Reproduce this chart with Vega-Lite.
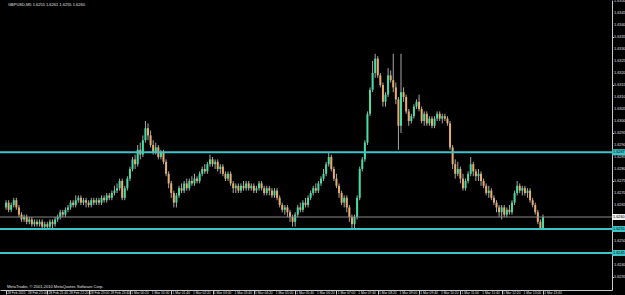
{
"$schema": "https://vega.github.io/schema/vega-lite/v6.json",
"width": 612, "height": 290,
"autosize": {"type": "none"},
"padding": {"left": 0, "top": 0, "right": 13, "bottom": 5},
"background": "#000000",
"config": {"view": {"stroke": null}, "font": "Liberation Sans"},
"datasets": {
"bars": [
{"t":"2011-02-28T20:20","o":1.6264,"h":1.6267,"l":1.6263,"c":1.6266},
{"t":"2011-02-28T20:25","o":1.6266,"h":1.6267,"l":1.6262,"c":1.6263},
{"t":"2011-02-28T20:30","o":1.6263,"h":1.6266,"l":1.6262,"c":1.6265},
{"t":"2011-02-28T20:35","o":1.6265,"h":1.6268,"l":1.6264,"c":1.6267},
{"t":"2011-02-28T20:40","o":1.6267,"h":1.6268,"l":1.6263,"c":1.6264},
{"t":"2011-02-28T20:45","o":1.6264,"h":1.6265,"l":1.6260,"c":1.6261},
{"t":"2011-02-28T20:50","o":1.6261,"h":1.6262,"l":1.6258,"c":1.6259},
{"t":"2011-02-28T20:55","o":1.6259,"h":1.6261,"l":1.6258,"c":1.6260},
{"t":"2011-02-28T21:00","o":1.6260,"h":1.6261,"l":1.6257,"c":1.6258},
{"t":"2011-02-28T21:05","o":1.6258,"h":1.6260,"l":1.6257,"c":1.6259},
{"t":"2011-02-28T21:10","o":1.6259,"h":1.6260,"l":1.6256,"c":1.6257},
{"t":"2011-02-28T21:15","o":1.6257,"h":1.6259,"l":1.6256,"c":1.6258},
{"t":"2011-02-28T21:20","o":1.6258,"h":1.6259,"l":1.6256,"c":1.6257},
{"t":"2011-02-28T21:25","o":1.6257,"h":1.6259,"l":1.6256,"c":1.6258},
{"t":"2011-02-28T21:30","o":1.6258,"h":1.6259,"l":1.6255,"c":1.6256},
{"t":"2011-02-28T21:35","o":1.6256,"h":1.6258,"l":1.6255,"c":1.6257},
{"t":"2011-02-28T21:40","o":1.6257,"h":1.6258,"l":1.6255,"c":1.6256},
{"t":"2011-02-28T21:45","o":1.6256,"h":1.6259,"l":1.6255,"c":1.6258},
{"t":"2011-02-28T21:50","o":1.6258,"h":1.6259,"l":1.6255,"c":1.6257},
{"t":"2011-02-28T21:55","o":1.6257,"h":1.6260,"l":1.6256,"c":1.6259},
{"t":"2011-02-28T22:00","o":1.6259,"h":1.6261,"l":1.6258,"c":1.6260},
{"t":"2011-02-28T22:05","o":1.6260,"h":1.6263,"l":1.6259,"c":1.6262},
{"t":"2011-02-28T22:10","o":1.6262,"h":1.6263,"l":1.6260,"c":1.6261},
{"t":"2011-02-28T22:15","o":1.6261,"h":1.6264,"l":1.6260,"c":1.6263},
{"t":"2011-02-28T22:20","o":1.6263,"h":1.6265,"l":1.6262,"c":1.6264},
{"t":"2011-02-28T22:25","o":1.6264,"h":1.6267,"l":1.6263,"c":1.6266},
{"t":"2011-02-28T22:30","o":1.6266,"h":1.6267,"l":1.6264,"c":1.6265},
{"t":"2011-02-28T22:35","o":1.6265,"h":1.6269,"l":1.6264,"c":1.6267},
{"t":"2011-02-28T22:40","o":1.6267,"h":1.6269,"l":1.6266,"c":1.6268},
{"t":"2011-02-28T22:45","o":1.6268,"h":1.6269,"l":1.6265,"c":1.6266},
{"t":"2011-02-28T22:50","o":1.6266,"h":1.6268,"l":1.6265,"c":1.6267},
{"t":"2011-02-28T22:55","o":1.6267,"h":1.6268,"l":1.6264,"c":1.6266},
{"t":"2011-02-28T23:00","o":1.6266,"h":1.6267,"l":1.6264,"c":1.6265},
{"t":"2011-02-28T23:05","o":1.6265,"h":1.6268,"l":1.6264,"c":1.6267},
{"t":"2011-02-28T23:10","o":1.6267,"h":1.6268,"l":1.6265,"c":1.6266},
{"t":"2011-02-28T23:15","o":1.6266,"h":1.6268,"l":1.6265,"c":1.6267},
{"t":"2011-02-28T23:20","o":1.6267,"h":1.6268,"l":1.6265,"c":1.6266},
{"t":"2011-02-28T23:25","o":1.6266,"h":1.6269,"l":1.6265,"c":1.6268},
{"t":"2011-02-28T23:30","o":1.6268,"h":1.6269,"l":1.6266,"c":1.6267},
{"t":"2011-02-28T23:35","o":1.6267,"h":1.6270,"l":1.6266,"c":1.6269},
{"t":"2011-02-28T23:40","o":1.6269,"h":1.6270,"l":1.6267,"c":1.6268},
{"t":"2011-02-28T23:45","o":1.6268,"h":1.6271,"l":1.6267,"c":1.6270},
{"t":"2011-02-28T23:50","o":1.6270,"h":1.6273,"l":1.6269,"c":1.6271},
{"t":"2011-02-28T23:55","o":1.6271,"h":1.6274,"l":1.6270,"c":1.6272},
{"t":"2011-03-01T00:00","o":1.6272,"h":1.6276,"l":1.6271,"c":1.6275},
{"t":"2011-03-01T00:05","o":1.6275,"h":1.6276,"l":1.6267,"c":1.6268},
{"t":"2011-03-01T00:10","o":1.6268,"h":1.6273,"l":1.6267,"c":1.6272},
{"t":"2011-03-01T00:15","o":1.6272,"h":1.6277,"l":1.6271,"c":1.6276},
{"t":"2011-03-01T00:20","o":1.6276,"h":1.6281,"l":1.6275,"c":1.6280},
{"t":"2011-03-01T00:25","o":1.6280,"h":1.6285,"l":1.6279,"c":1.6284},
{"t":"2011-03-01T00:30","o":1.6284,"h":1.6286,"l":1.6280,"c":1.6282},
{"t":"2011-03-01T00:35","o":1.6282,"h":1.6290,"l":1.6281,"c":1.6288},
{"t":"2011-03-01T00:40","o":1.6288,"h":1.6291,"l":1.6284,"c":1.6286},
{"t":"2011-03-01T00:45","o":1.6286,"h":1.6294,"l":1.6285,"c":1.6292},
{"t":"2011-03-01T00:50","o":1.6292,"h":1.6300,"l":1.6291,"c":1.6297},
{"t":"2011-03-01T00:55","o":1.6297,"h":1.6299,"l":1.6292,"c":1.6294},
{"t":"2011-03-01T01:00","o":1.6294,"h":1.6296,"l":1.6289,"c":1.6290},
{"t":"2011-03-01T01:05","o":1.6290,"h":1.6292,"l":1.6286,"c":1.6287},
{"t":"2011-03-01T01:10","o":1.6287,"h":1.6291,"l":1.6286,"c":1.6289},
{"t":"2011-03-01T01:15","o":1.6289,"h":1.6290,"l":1.6284,"c":1.6285},
{"t":"2011-03-01T01:20","o":1.6285,"h":1.6288,"l":1.6284,"c":1.6287},
{"t":"2011-03-01T01:25","o":1.6287,"h":1.6288,"l":1.6282,"c":1.6283},
{"t":"2011-03-01T01:30","o":1.6283,"h":1.6284,"l":1.6277,"c":1.6278},
{"t":"2011-03-01T01:35","o":1.6278,"h":1.6279,"l":1.6272,"c":1.6274},
{"t":"2011-03-01T01:40","o":1.6274,"h":1.6275,"l":1.6268,"c":1.6270},
{"t":"2011-03-01T01:45","o":1.6270,"h":1.6271,"l":1.6264,"c":1.6266},
{"t":"2011-03-01T01:50","o":1.6266,"h":1.6270,"l":1.6264,"c":1.6269},
{"t":"2011-03-01T01:55","o":1.6269,"h":1.6273,"l":1.6268,"c":1.6272},
{"t":"2011-03-01T02:00","o":1.6272,"h":1.6274,"l":1.6270,"c":1.6271},
{"t":"2011-03-01T02:05","o":1.6271,"h":1.6275,"l":1.6270,"c":1.6274},
{"t":"2011-03-01T02:10","o":1.6274,"h":1.6276,"l":1.6271,"c":1.6272},
{"t":"2011-03-01T02:15","o":1.6272,"h":1.6276,"l":1.6271,"c":1.6275},
{"t":"2011-03-01T02:20","o":1.6275,"h":1.6277,"l":1.6273,"c":1.6274},
{"t":"2011-03-01T02:25","o":1.6274,"h":1.6278,"l":1.6273,"c":1.6276},
{"t":"2011-03-01T02:30","o":1.6276,"h":1.6277,"l":1.6274,"c":1.6275},
{"t":"2011-03-01T02:35","o":1.6275,"h":1.6279,"l":1.6274,"c":1.6278},
{"t":"2011-03-01T02:40","o":1.6278,"h":1.6281,"l":1.6277,"c":1.6280},
{"t":"2011-03-01T02:45","o":1.6280,"h":1.6282,"l":1.6278,"c":1.6279},
{"t":"2011-03-01T02:50","o":1.6279,"h":1.6283,"l":1.6278,"c":1.6282},
{"t":"2011-03-01T02:55","o":1.6282,"h":1.6286,"l":1.6281,"c":1.6284},
{"t":"2011-03-01T03:00","o":1.6284,"h":1.6285,"l":1.6281,"c":1.6282},
{"t":"2011-03-01T03:05","o":1.6282,"h":1.6284,"l":1.6280,"c":1.6283},
{"t":"2011-03-01T03:10","o":1.6283,"h":1.6284,"l":1.6279,"c":1.6280},
{"t":"2011-03-01T03:15","o":1.6280,"h":1.6282,"l":1.6278,"c":1.6281},
{"t":"2011-03-01T03:20","o":1.6281,"h":1.6282,"l":1.6277,"c":1.6278},
{"t":"2011-03-01T03:25","o":1.6278,"h":1.6279,"l":1.6275,"c":1.6276},
{"t":"2011-03-01T03:30","o":1.6276,"h":1.6279,"l":1.6275,"c":1.6278},
{"t":"2011-03-01T03:35","o":1.6278,"h":1.6279,"l":1.6273,"c":1.6274},
{"t":"2011-03-01T03:40","o":1.6274,"h":1.6275,"l":1.6270,"c":1.6272},
{"t":"2011-03-01T03:45","o":1.6272,"h":1.6274,"l":1.6270,"c":1.6273},
{"t":"2011-03-01T03:50","o":1.6273,"h":1.6274,"l":1.6270,"c":1.6271},
{"t":"2011-03-01T03:55","o":1.6271,"h":1.6274,"l":1.6270,"c":1.6273},
{"t":"2011-03-01T04:00","o":1.6273,"h":1.6275,"l":1.6271,"c":1.6272},
{"t":"2011-03-01T04:05","o":1.6272,"h":1.6275,"l":1.6271,"c":1.6274},
{"t":"2011-03-01T04:10","o":1.6274,"h":1.6275,"l":1.6271,"c":1.6272},
{"t":"2011-03-01T04:15","o":1.6272,"h":1.6274,"l":1.6271,"c":1.6273},
{"t":"2011-03-01T04:20","o":1.6273,"h":1.6274,"l":1.6270,"c":1.6271},
{"t":"2011-03-01T04:25","o":1.6271,"h":1.6273,"l":1.6270,"c":1.6272},
{"t":"2011-03-01T04:30","o":1.6272,"h":1.6275,"l":1.6271,"c":1.6274},
{"t":"2011-03-01T04:35","o":1.6274,"h":1.6275,"l":1.6271,"c":1.6272},
{"t":"2011-03-01T04:40","o":1.6272,"h":1.6273,"l":1.6269,"c":1.6270},
{"t":"2011-03-01T04:45","o":1.6270,"h":1.6273,"l":1.6269,"c":1.6272},
{"t":"2011-03-01T04:50","o":1.6272,"h":1.6273,"l":1.6269,"c":1.6271},
{"t":"2011-03-01T04:55","o":1.6271,"h":1.6272,"l":1.6268,"c":1.6269},
{"t":"2011-03-01T05:00","o":1.6269,"h":1.6272,"l":1.6268,"c":1.6271},
{"t":"2011-03-01T05:05","o":1.6271,"h":1.6272,"l":1.6267,"c":1.6268},
{"t":"2011-03-01T05:10","o":1.6268,"h":1.6269,"l":1.6264,"c":1.6265},
{"t":"2011-03-01T05:15","o":1.6265,"h":1.6266,"l":1.6262,"c":1.6263},
{"t":"2011-03-01T05:20","o":1.6263,"h":1.6265,"l":1.6261,"c":1.6264},
{"t":"2011-03-01T05:25","o":1.6264,"h":1.6265,"l":1.6260,"c":1.6262},
{"t":"2011-03-01T05:30","o":1.6262,"h":1.6263,"l":1.6258,"c":1.6260},
{"t":"2011-03-01T05:35","o":1.6260,"h":1.6261,"l":1.6256,"c":1.6258},
{"t":"2011-03-01T05:40","o":1.6258,"h":1.6262,"l":1.6256,"c":1.6261},
{"t":"2011-03-01T05:45","o":1.6261,"h":1.6265,"l":1.6260,"c":1.6264},
{"t":"2011-03-01T05:50","o":1.6264,"h":1.6266,"l":1.6262,"c":1.6263},
{"t":"2011-03-01T05:55","o":1.6263,"h":1.6267,"l":1.6262,"c":1.6266},
{"t":"2011-03-01T06:00","o":1.6266,"h":1.6268,"l":1.6264,"c":1.6265},
{"t":"2011-03-01T06:05","o":1.6265,"h":1.6269,"l":1.6264,"c":1.6268},
{"t":"2011-03-01T06:10","o":1.6268,"h":1.6271,"l":1.6267,"c":1.6270},
{"t":"2011-03-01T06:15","o":1.6270,"h":1.6273,"l":1.6269,"c":1.6272},
{"t":"2011-03-01T06:20","o":1.6272,"h":1.6274,"l":1.6270,"c":1.6271},
{"t":"2011-03-01T06:25","o":1.6271,"h":1.6275,"l":1.6270,"c":1.6274},
{"t":"2011-03-01T06:30","o":1.6274,"h":1.6277,"l":1.6273,"c":1.6276},
{"t":"2011-03-01T06:35","o":1.6276,"h":1.6280,"l":1.6275,"c":1.6278},
{"t":"2011-03-01T06:40","o":1.6278,"h":1.6283,"l":1.6277,"c":1.6282},
{"t":"2011-03-01T06:45","o":1.6282,"h":1.6287,"l":1.6281,"c":1.6285},
{"t":"2011-03-01T06:50","o":1.6285,"h":1.6286,"l":1.6279,"c":1.6280},
{"t":"2011-03-01T06:55","o":1.6280,"h":1.6281,"l":1.6275,"c":1.6276},
{"t":"2011-03-01T07:00","o":1.6276,"h":1.6278,"l":1.6272,"c":1.6273},
{"t":"2011-03-01T07:05","o":1.6273,"h":1.6274,"l":1.6268,"c":1.6270},
{"t":"2011-03-01T07:10","o":1.6270,"h":1.6271,"l":1.6265,"c":1.6266},
{"t":"2011-03-01T07:15","o":1.6266,"h":1.6269,"l":1.6264,"c":1.6268},
{"t":"2011-03-01T07:20","o":1.6268,"h":1.6269,"l":1.6262,"c":1.6264},
{"t":"2011-03-01T07:25","o":1.6264,"h":1.6265,"l":1.6258,"c":1.6260},
{"t":"2011-03-01T07:30","o":1.6260,"h":1.6261,"l":1.6255,"c":1.6257},
{"t":"2011-03-01T07:35","o":1.6257,"h":1.6261,"l":1.6255,"c":1.6260},
{"t":"2011-03-01T07:40","o":1.6260,"h":1.6269,"l":1.6259,"c":1.6268},
{"t":"2011-03-01T07:45","o":1.6268,"h":1.6281,"l":1.6267,"c":1.6280},
{"t":"2011-03-01T07:50","o":1.6280,"h":1.6285,"l":1.6279,"c":1.6284},
{"t":"2011-03-01T07:55","o":1.6284,"h":1.6292,"l":1.6283,"c":1.6291},
{"t":"2011-03-01T08:00","o":1.6291,"h":1.6304,"l":1.6290,"c":1.6303},
{"t":"2011-03-01T08:05","o":1.6303,"h":1.6314,"l":1.6302,"c":1.6313},
{"t":"2011-03-01T08:10","o":1.6313,"h":1.6325,"l":1.6312,"c":1.6320},
{"t":"2011-03-01T08:15","o":1.6320,"h":1.6328,"l":1.6318,"c":1.6326},
{"t":"2011-03-01T08:20","o":1.6326,"h":1.6327,"l":1.6318,"c":1.6319},
{"t":"2011-03-01T08:25","o":1.6319,"h":1.6320,"l":1.6314,"c":1.6315},
{"t":"2011-03-01T08:30","o":1.6315,"h":1.6316,"l":1.6306,"c":1.6308},
{"t":"2011-03-01T08:35","o":1.6308,"h":1.6312,"l":1.6306,"c":1.6311},
{"t":"2011-03-01T08:40","o":1.6311,"h":1.6322,"l":1.6310,"c":1.6319},
{"t":"2011-03-01T08:45","o":1.6319,"h":1.6321,"l":1.6316,"c":1.6317},
{"t":"2011-03-01T08:50","o":1.6317,"h":1.6328,"l":1.6312,"c":1.6314},
{"t":"2011-03-01T08:55","o":1.6314,"h":1.6316,"l":1.6307,"c":1.6309},
{"t":"2011-03-01T09:00","o":1.6309,"h":1.6310,"l":1.6288,"c":1.6298},
{"t":"2011-03-01T09:05","o":1.6298,"h":1.6328,"l":1.6295,"c":1.6312},
{"t":"2011-03-01T09:10","o":1.6312,"h":1.6314,"l":1.6308,"c":1.6310},
{"t":"2011-03-01T09:15","o":1.6310,"h":1.6311,"l":1.6303,"c":1.6304},
{"t":"2011-03-01T09:20","o":1.6304,"h":1.6305,"l":1.6298,"c":1.6300},
{"t":"2011-03-01T09:25","o":1.6300,"h":1.6303,"l":1.6299,"c":1.6302},
{"t":"2011-03-01T09:30","o":1.6302,"h":1.6307,"l":1.6301,"c":1.6306},
{"t":"2011-03-01T09:35","o":1.6306,"h":1.6309,"l":1.6305,"c":1.6308},
{"t":"2011-03-01T09:40","o":1.6308,"h":1.6311,"l":1.6304,"c":1.6305},
{"t":"2011-03-01T09:45","o":1.6305,"h":1.6306,"l":1.6299,"c":1.6300},
{"t":"2011-03-01T09:50","o":1.6300,"h":1.6304,"l":1.6298,"c":1.6303},
{"t":"2011-03-01T09:55","o":1.6303,"h":1.6304,"l":1.6298,"c":1.6299},
{"t":"2011-03-01T10:00","o":1.6299,"h":1.6302,"l":1.6298,"c":1.6301},
{"t":"2011-03-01T10:05","o":1.6301,"h":1.6302,"l":1.6297,"c":1.6298},
{"t":"2011-03-01T10:10","o":1.6298,"h":1.6302,"l":1.6297,"c":1.6301},
{"t":"2011-03-01T10:15","o":1.6301,"h":1.6304,"l":1.6300,"c":1.6303},
{"t":"2011-03-01T10:20","o":1.6303,"h":1.6304,"l":1.6300,"c":1.6301},
{"t":"2011-03-01T10:25","o":1.6301,"h":1.6303,"l":1.6299,"c":1.6302},
{"t":"2011-03-01T10:30","o":1.6302,"h":1.6303,"l":1.6300,"c":1.6301},
{"t":"2011-03-01T10:35","o":1.6301,"h":1.6302,"l":1.6298,"c":1.6299},
{"t":"2011-03-01T10:40","o":1.6299,"h":1.6300,"l":1.6288,"c":1.6289},
{"t":"2011-03-01T10:45","o":1.6289,"h":1.6290,"l":1.6280,"c":1.6282},
{"t":"2011-03-01T10:50","o":1.6282,"h":1.6284,"l":1.6276,"c":1.6278},
{"t":"2011-03-01T10:55","o":1.6278,"h":1.6283,"l":1.6277,"c":1.6280},
{"t":"2011-03-01T11:00","o":1.6280,"h":1.6281,"l":1.6274,"c":1.6276},
{"t":"2011-03-01T11:05","o":1.6276,"h":1.6278,"l":1.6271,"c":1.6272},
{"t":"2011-03-01T11:10","o":1.6272,"h":1.6276,"l":1.6271,"c":1.6275},
{"t":"2011-03-01T11:15","o":1.6275,"h":1.6279,"l":1.6274,"c":1.6278},
{"t":"2011-03-01T11:20","o":1.6278,"h":1.6285,"l":1.6277,"c":1.6282},
{"t":"2011-03-01T11:25","o":1.6282,"h":1.6283,"l":1.6277,"c":1.6279},
{"t":"2011-03-01T11:30","o":1.6279,"h":1.6280,"l":1.6275,"c":1.6277},
{"t":"2011-03-01T11:35","o":1.6277,"h":1.6280,"l":1.6275,"c":1.6278},
{"t":"2011-03-01T11:40","o":1.6278,"h":1.6279,"l":1.6273,"c":1.6275},
{"t":"2011-03-01T11:45","o":1.6275,"h":1.6276,"l":1.6272,"c":1.6273},
{"t":"2011-03-01T11:50","o":1.6273,"h":1.6274,"l":1.6269,"c":1.6270},
{"t":"2011-03-01T11:55","o":1.6270,"h":1.6273,"l":1.6268,"c":1.6271},
{"t":"2011-03-01T12:00","o":1.6271,"h":1.6272,"l":1.6267,"c":1.6268},
{"t":"2011-03-01T12:05","o":1.6268,"h":1.6269,"l":1.6265,"c":1.6266},
{"t":"2011-03-01T12:10","o":1.6266,"h":1.6267,"l":1.6262,"c":1.6264},
{"t":"2011-03-01T12:15","o":1.6264,"h":1.6265,"l":1.6260,"c":1.6262},
{"t":"2011-03-01T12:20","o":1.6262,"h":1.6265,"l":1.6259,"c":1.6264},
{"t":"2011-03-01T12:25","o":1.6264,"h":1.6265,"l":1.6260,"c":1.6261},
{"t":"2011-03-01T12:30","o":1.6261,"h":1.6264,"l":1.6260,"c":1.6263},
{"t":"2011-03-01T12:35","o":1.6263,"h":1.6265,"l":1.6261,"c":1.6262},
{"t":"2011-03-01T12:40","o":1.6262,"h":1.6267,"l":1.6261,"c":1.6266},
{"t":"2011-03-01T12:45","o":1.6266,"h":1.6271,"l":1.6265,"c":1.6270},
{"t":"2011-03-01T12:50","o":1.6270,"h":1.6275,"l":1.6269,"c":1.6273},
{"t":"2011-03-01T12:55","o":1.6273,"h":1.6274,"l":1.6270,"c":1.6271},
{"t":"2011-03-01T13:00","o":1.6271,"h":1.6273,"l":1.6269,"c":1.6272},
{"t":"2011-03-01T13:05","o":1.6272,"h":1.6273,"l":1.6269,"c":1.6270},
{"t":"2011-03-01T13:10","o":1.6270,"h":1.6272,"l":1.6268,"c":1.6271},
{"t":"2011-03-01T13:15","o":1.6271,"h":1.6272,"l":1.6266,"c":1.6267},
{"t":"2011-03-01T13:20","o":1.6267,"h":1.6268,"l":1.6264,"c":1.6265},
{"t":"2011-03-01T13:25","o":1.6265,"h":1.6266,"l":1.6261,"c":1.6262},
{"t":"2011-03-01T13:30","o":1.6262,"h":1.6263,"l":1.6257,"c":1.6258},
{"t":"2011-03-01T13:35","o":1.6258,"h":1.6259,"l":1.6255,"c":1.6255},
{"t":"2011-03-01T13:40","o":1.6255,"h":1.6261,"l":1.6255,"c":1.6260}
],
"lines": [{"p":1.6287},{"p":1.6255},{"p":1.6245}],
"bid": [{"p":1.6260}],
"yticks": [{"p":1.6235},{"p":1.6240},{"p":1.6245},{"p":1.6250},{"p":1.6255},{"p":1.6260},{"p":1.6265},{"p":1.6270},{"p":1.6275},{"p":1.6280},{"p":1.6285},{"p":1.6290},{"p":1.6295},{"p":1.6300},{"p":1.6305},{"p":1.6310},{"p":1.6315},{"p":1.6320},{"p":1.6325},{"p":1.6330},{"p":1.6335},{"p":1.6340},{"p":1.6345},{"p":1.6350}],
"xticks": [
{"t":"2011-02-28T20:20","lab":"28 Feb 2011"},
{"t":"2011-02-28T21:00","lab":"28 Feb 21:00"},
{"t":"2011-02-28T21:40","lab":"28 Feb 21:40"},
{"t":"2011-02-28T22:20","lab":"28 Feb 22:20"},
{"t":"2011-02-28T23:00","lab":"28 Feb 23:00"},
{"t":"2011-02-28T23:40","lab":"28 Feb 23:40"},
{"t":"2011-03-01T00:20","lab":"1 Mar 00:20"},
{"t":"2011-03-01T01:00","lab":"1 Mar 01:00"},
{"t":"2011-03-01T01:40","lab":"1 Mar 01:40"},
{"t":"2011-03-01T02:20","lab":"1 Mar 02:20"},
{"t":"2011-03-01T03:00","lab":"1 Mar 03:00"},
{"t":"2011-03-01T03:40","lab":"1 Mar 03:40"},
{"t":"2011-03-01T04:20","lab":"1 Mar 04:20"},
{"t":"2011-03-01T05:00","lab":"1 Mar 05:00"},
{"t":"2011-03-01T05:40","lab":"1 Mar 05:40"},
{"t":"2011-03-01T06:20","lab":"1 Mar 06:20"},
{"t":"2011-03-01T07:00","lab":"1 Mar 07:00"},
{"t":"2011-03-01T07:40","lab":"1 Mar 07:40"},
{"t":"2011-03-01T08:20","lab":"1 Mar 08:20"},
{"t":"2011-03-01T09:00","lab":"1 Mar 09:00"},
{"t":"2011-03-01T09:40","lab":"1 Mar 09:40"},
{"t":"2011-03-01T10:20","lab":"1 Mar 10:20"},
{"t":"2011-03-01T11:00","lab":"1 Mar 11:00"},
{"t":"2011-03-01T11:40","lab":"1 Mar 11:40"},
{"t":"2011-03-01T12:20","lab":"1 Mar 12:20"},
{"t":"2011-03-01T13:00","lab":"1 Mar 13:00"},
{"t":"2011-03-01T13:40","lab":"1 Mar 13:40"}
]
},
"layer": [
{
"data": {"name": "bars"},
"mark": {"type": "rule", "color": "#a8a8a8", "strokeWidth": 1},
"encoding": {
"x": {"field": "t", "type": "temporal",
"scale": {"domain": [{"year":2011,"month":2,"date":28,"hours":20,"minutes":18},{"year":2011,"month":3,"date":1,"hours":15,"minutes":44}]},
"axis": {"orient": "bottom", "title": null, "grid": false, "labels": false,
"values": [
{"year":2011,"month":2,"date":28,"hours":20,"minutes":20},
{"year":2011,"month":2,"date":28,"hours":21,"minutes":0},
{"year":2011,"month":2,"date":28,"hours":21,"minutes":40},
{"year":2011,"month":2,"date":28,"hours":22,"minutes":20},
{"year":2011,"month":2,"date":28,"hours":23,"minutes":0},
{"year":2011,"month":2,"date":28,"hours":23,"minutes":40},
{"year":2011,"month":3,"date":1,"hours":0,"minutes":20},
{"year":2011,"month":3,"date":1,"hours":1,"minutes":0},
{"year":2011,"month":3,"date":1,"hours":1,"minutes":40},
{"year":2011,"month":3,"date":1,"hours":2,"minutes":20},
{"year":2011,"month":3,"date":1,"hours":3,"minutes":0},
{"year":2011,"month":3,"date":1,"hours":3,"minutes":40},
{"year":2011,"month":3,"date":1,"hours":4,"minutes":20},
{"year":2011,"month":3,"date":1,"hours":5,"minutes":0},
{"year":2011,"month":3,"date":1,"hours":5,"minutes":40},
{"year":2011,"month":3,"date":1,"hours":6,"minutes":20},
{"year":2011,"month":3,"date":1,"hours":7,"minutes":0},
{"year":2011,"month":3,"date":1,"hours":7,"minutes":40},
{"year":2011,"month":3,"date":1,"hours":8,"minutes":20},
{"year":2011,"month":3,"date":1,"hours":9,"minutes":0},
{"year":2011,"month":3,"date":1,"hours":9,"minutes":40},
{"year":2011,"month":3,"date":1,"hours":10,"minutes":20},
{"year":2011,"month":3,"date":1,"hours":11,"minutes":0},
{"year":2011,"month":3,"date":1,"hours":11,"minutes":40},
{"year":2011,"month":3,"date":1,"hours":12,"minutes":20},
{"year":2011,"month":3,"date":1,"hours":13,"minutes":0},
{"year":2011,"month":3,"date":1,"hours":13,"minutes":40}
],
"tickSize": 4, "tickColor": "#c8c8c8", "domainColor": "#c8c8c8"}},
"y": {"field": "l", "type": "quantitative",
"scale": {"domain": [1.62296, 1.63504], "nice": false, "zero": false},
"axis": {"orient": "right", "title": null, "grid": false, "labels": false,
"values": [1.6235,1.624,1.6245,1.625,1.6255,1.626,1.6265,1.627,1.6275,1.628,1.6285,1.629,1.6295,1.63,1.6305,1.631,1.6315,1.632,1.6325,1.633,1.6335,1.634,1.6345,1.635],
"tickSize": 1.5, "tickColor": "#c8c8c8", "domainColor": "#c8c8c8"}},
"y2": {"field": "h"}
}
},
{
"data": {"name": "bars"},
"mark": {"type": "bar", "size": 2},
"encoding": {
"x": {"field": "t", "type": "temporal"},
"y": {"field": "o", "type": "quantitative"},
"y2": {"field": "c"},
"color": {"condition": {"test": "datum.c >= datum.o", "value": "#46dca4"}, "value": "#e8ad6e"}
}
},
{
"data": {"name": "lines"},
"mark": {"type": "rule", "color": "#3cc4c6", "strokeWidth": 2},
"encoding": {"y": {"field": "p", "type": "quantitative"}}
},
{
"data": {"name": "bid"},
"mark": {"type": "rule", "color": "#8a8a8a", "strokeWidth": 1},
"encoding": {"y": {"field": "p", "type": "quantitative"}}
},
{
"data": {"name": "yticks"},
"mark": {"type": "text", "x": "width", "dx": 2, "align": "left", "baseline": "middle", "fontSize": 3.8, "color": "#e0e0e0", "font": "Liberation Sans", "clip": false},
"encoding": {"y": {"field": "p", "type": "quantitative"}, "text": {"field": "p", "format": ".4f"}}
},
{
"data": {"name": "xticks"},
"mark": {"type": "text", "dx": 1.2, "dy": 1, "align": "left", "baseline": "top", "fontSize": 3.3, "color": "#e0e0e0", "font": "Liberation Sans", "clip": false},
"encoding": {
"x": {"field": "t", "type": "temporal"},
"y": {"datum": 1.62296, "type": "quantitative"},
"text": {"field": "lab"}
}
},
{
"data": {"name": "lines"},
"mark": {"type": "rect", "x": "width", "x2": {"expr": "width + 13"}, "yOffset": -3, "y2Offset": 3, "color": "#3cc4c6", "clip": false},
"encoding": {"y": {"field": "p", "type": "quantitative"}, "y2": {"field": "p"}}
},
{
"data": {"name": "bid"},
"mark": {"type": "rect", "x": "width", "x2": {"expr": "width + 13"}, "yOffset": -3, "y2Offset": 3, "color": "#f0f0f0", "clip": false},
"encoding": {"y": {"field": "p", "type": "quantitative"}, "y2": {"field": "p"}}
},
{
"data": {"name": "lines"},
"mark": {"type": "text", "x": "width", "dx": 1, "align": "left", "baseline": "middle", "fontSize": 3.8, "color": "#000000", "font": "Liberation Sans"},
"encoding": {"y": {"field": "p", "type": "quantitative"}, "text": {"field": "p", "format": ".4f"}}
},
{
"data": {"name": "bid"},
"mark": {"type": "text", "x": "width", "dx": 1, "align": "left", "baseline": "middle", "fontSize": 3.8, "color": "#000000", "font": "Liberation Sans"},
"encoding": {"y": {"field": "p", "type": "quantitative"}, "text": {"field": "p", "format": ".4f"}}
},
{
"data": {"values": [{}]},
"mark": {"type": "text", "align": "left", "baseline": "top", "dx": 3, "dy": 3, "fontSize": 4, "color": "#e0e0e0", "font": "Liberation Sans"},
"encoding": {
"x": {"datum": {"year":2011,"month":2,"date":28,"hours":20,"minutes":18}, "type": "temporal"},
"y": {"datum": 1.63504, "type": "quantitative"},
"text": {"value": "GBPUSD,M5  1.6255 1.6261 1.6255 1.6260"}
}
},
{
"data": {"values": [{}]},
"mark": {"type": "text", "align": "left", "baseline": "bottom", "dx": 2, "dy": -1, "fontSize": 4, "color": "#e0e0e0", "font": "Liberation Sans"},
"encoding": {
"x": {"datum": {"year":2011,"month":2,"date":28,"hours":20,"minutes":18}, "type": "temporal"},
"y": {"datum": 1.62296, "type": "quantitative"},
"text": {"value": "MetaTrader, © 2001-2010 MetaQuotes Software Corp."}
}
}
]
}
